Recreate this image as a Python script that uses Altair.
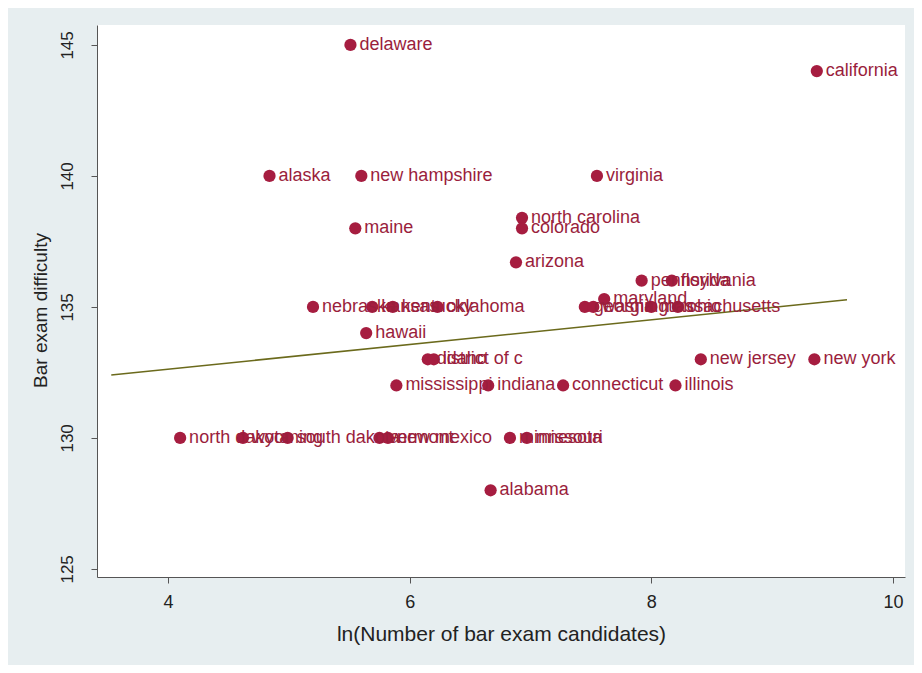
import altair as alt
import pandas as pd

states = [
    "delaware", "california", "alaska", "new hampshire", "virginia",
    "north carolina", "colorado", "maine", "arizona", "pennsylvania",
    "florida", "maryland", "georgia", "washington", "massachusetts", "ohio",
    "nebraska", "kansas", "kentucky", "oklahoma", "hawaii",
    "district of c", "idaho", "new jersey", "new york",
    "mississippi", "indiana", "connecticut", "illinois",
    "north dakota", "wyoming", "south dakota", "vermont", "new mexico",
    "minnesota", "missouri", "alabama",
]
ln_candidates = [
    5.51, 9.37, 4.84, 5.60, 7.55,
    6.93, 6.93, 5.55, 6.88, 7.92,
    8.17, 7.61, 7.45, 7.52, 8.00, 8.22,
    5.20, 5.69, 5.86, 6.23, 5.64,
    6.15, 6.20, 8.41, 9.35,
    5.89, 6.65, 7.27, 8.20,
    4.10, 4.62, 4.99, 5.75, 5.82,
    6.83, 6.97, 6.67,
]
difficulty = [
    145, 144, 140, 140, 140,
    138.4, 138, 138, 136.7, 136,
    136, 135.3, 135, 135, 135, 135,
    135, 135, 135, 135, 134,
    133, 133, 133, 133,
    132, 132, 132, 132,
    130, 130, 130, 130, 130,
    130, 130, 128,
]

fit_x = [3.53, 9.62]
fit_y = [132.40, 135.27]

x_ticks = [4, 6, 8, 10]
y_ticks = [125, 130, 135, 140, 145]

pts = pd.DataFrame({"state": states, "x": ln_candidates, "y": difficulty})
fit = pd.DataFrame({"x": fit_x, "y": fit_y})

FONT = "Liberation Sans"
PT_COLOR = "#a61d40"
TXT_COLOR = "#9a1e3c"

xscale = alt.Scale(domain=[3.412, 10.1], nice=False, zero=False)
yscale = alt.Scale(domain=[124.69, 145.76], nice=False, zero=False)

xaxis = alt.Axis(
    title="ln(Number of bar exam candidates)", values=x_ticks, format="d",
    grid=False,
    labelFontSize=18, titleFontSize=21, labelFont=FONT, titleFont=FONT,
    titleFontWeight="normal", labelColor="#222222", titleColor="#222222",
    tickSize=6, labelPadding=10, titlePadding=12, domainColor="#555555",
    tickColor="#555555", labelFlush=False,
)
yaxis = alt.Axis(
    title="Bar exam difficulty", values=y_ticks, format="d", grid=False,
    labelFontSize=17, titleFontSize=19, labelFont=FONT, titleFont=FONT,
    titleFontWeight="normal", labelColor="#222222", titleColor="#222222",
    tickSize=6, labelPadding=15, labelAngle=270, labelAlign="center",
    labelBaseline="bottom", titleX=-47, titleY=285, domainColor="#555555",
    tickColor="#555555", labelFlush=False,
)

line = alt.Chart(fit).mark_line(color="#6b6a1c", strokeWidth=1.6).encode(
    x=alt.X("x:Q", scale=xscale, axis=xaxis),
    y=alt.Y("y:Q", scale=yscale, axis=yaxis),
)

points = alt.Chart(pts).mark_circle(size=150, color=PT_COLOR, opacity=1).encode(
    x=alt.X("x:Q", scale=xscale),
    y=alt.Y("y:Q", scale=yscale),
)

labels = alt.Chart(pts).mark_text(
    align="left", baseline="middle", dx=9, fontSize=18, font=FONT, color=TXT_COLOR
).encode(
    x=alt.X("x:Q", scale=xscale),
    y=alt.Y("y:Q", scale=yscale),
    text="state:N",
)

chart = (
    alt.layer(line, points, labels)
    .properties(
        width=808, height=552,
        autosize=alt.AutoSizeParams(type="none"),
        padding={"left": 89, "top": 17, "right": 9, "bottom": 88},
        background="#e7eef0",
    )
    .configure_view(fill="white", strokeWidth=0)
)

chart.save("out.html", embed_options={"renderer": "svg", "actions": False})
